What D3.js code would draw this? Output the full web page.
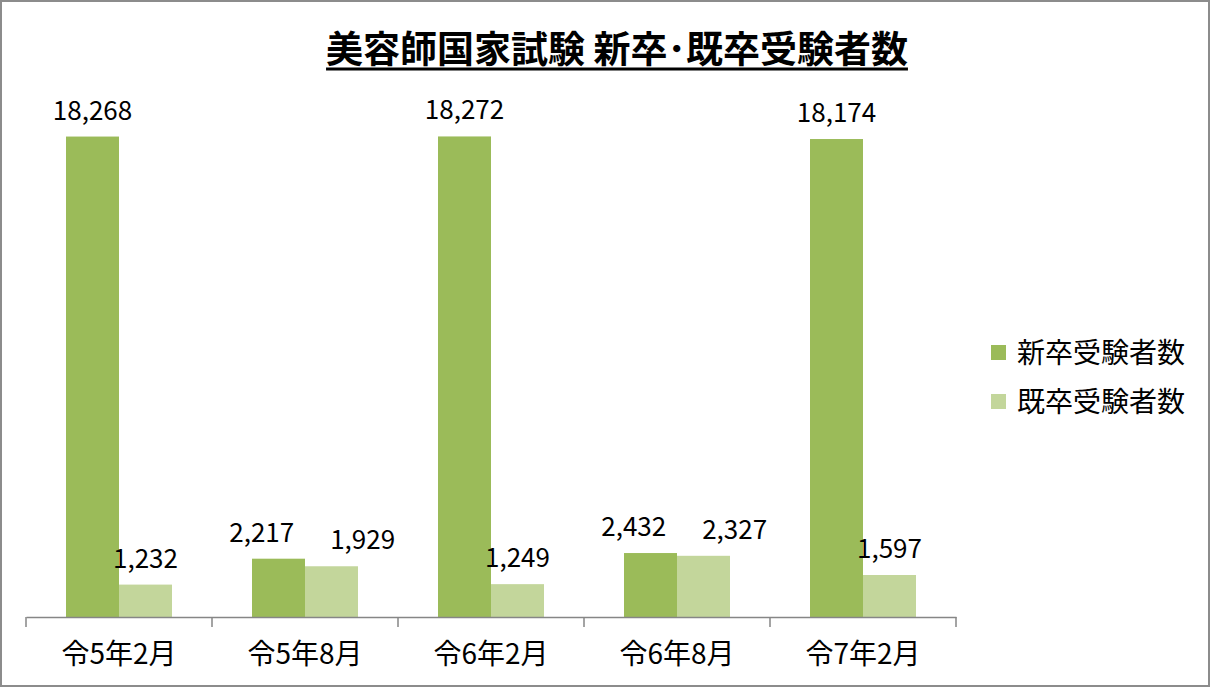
<!DOCTYPE html>
<html>
<head>
<meta charset="utf-8">
<script src="https://cdn.jsdelivr.net/npm/d3@7"></script>
<style>
  html, body { margin: 0; padding: 0; background: #fff; }
  svg { display: block; }
</style>
</head>
<body>
<div id="chart"></div>
<script>
// データ
const categories = ['令5年2月', '令5年8月', '令6年2月', '令6年8月', '令7年2月'];
const seriesNames = ['新卒受験者数', '既卒受験者数'];
const shinsotsu = [18268, 2217, 18272, 2432, 18174];
const kisotsu = [1232, 1929, 1249, 2327, 1597];
const seriesColors = ['#9BBB59', '#C3D69B'];
const titleText = '美容師国家試験 新卒･既卒受験者数';

(function () {
  'use strict';
  const W = 1212, H = 689;
  const plot = { left: 26, right: 956, top: 91, bottom: 617 };
  const font = '"Noto Sans CJK JP", "Noto Sans", sans-serif';

  const svg = d3.select('#chart').append('svg')
    .attr('width', W).attr('height', H);

  // 外枠
  svg.append('rect')
    .attr('x', 1).attr('y', 1).attr('width', W - 4).attr('height', H - 4)
    .attr('fill', '#fff').attr('stroke', '#8c8c8c').attr('stroke-width', 2);

  // タイトル
  const title = svg.append('text')
    .attr('x', 617).attr('y', 63)
    .attr('text-anchor', 'middle')
    .attr('font-family', font).attr('font-weight', 700)
    .attr('font-size', 37)
    .attr('fill', '#000')
    .text(titleText);
  const tb = title.node().getBBox();
  svg.append('line')
    .attr('x1', tb.x).attr('x2', tb.x + tb.width)
    .attr('y1', 69).attr('y2', 69)
    .attr('stroke', '#000').attr('stroke-width', 3);

  const x0 = d3.scaleBand().domain(categories).range([plot.left, plot.right]).padding(0);
  const x1 = d3.scaleBand().domain(seriesNames)
    .range([0, x0.bandwidth()]).paddingInner(0).paddingOuter(0.755);
  const y = d3.scaleLinear().domain([0, 20000]).range([plot.bottom, plot.top]);

  const rows = categories.map((c, i) => ({ cat: c, vals: [shinsotsu[i], kisotsu[i]] }));

  const g = svg.append('g');
  const groups = g.selectAll('g.grp').data(rows).join('g')
    .attr('transform', d => `translate(${x0(d.cat)},0)`);

  groups.selectAll('rect').data(d => d.vals.map((v, j) => ({ v, s: seriesNames[j], j })))
    .join('rect')
    .attr('x', d => x1(d.s))
    .attr('width', x1.bandwidth())
    .attr('y', d => y(d.v))
    .attr('height', d => y(0) - y(d.v))
    .attr('fill', d => seriesColors[d.j]);

  // データラベル(重なる場合は左右に逃がす)
  groups.each(function () {
    const labels = d3.select(this).selectAll('text.val')
      .data(d => d.vals.map((v, j) => ({ v, s: seriesNames[j] })))
      .join('text')
      .attr('class', 'val')
      .attr('x', d => x1(d.s) + x1.bandwidth() / 2)
      .attr('y', d => y(d.v) - 17)
      .attr('text-anchor', 'middle')
      .attr('font-family', font).attr('font-size', 26)
      .attr('fill', '#000')
      .text(d => d3.format(',')(d.v));
    const nodes = labels.nodes();
    const a = nodes[0].getBBox(), b = nodes[1].getBBox();
    const vOverlap = a.y < b.y + b.height && b.y < a.y + a.height;
    const need = (a.x + a.width + 36) - b.x;
    if (vOverlap && need > 0) {
      d3.select(nodes[0]).attr('x', +nodes[0].getAttribute('x') - need * 0.35);
      d3.select(nodes[1]).attr('x', +nodes[1].getAttribute('x') + need * 0.65);
    }
  });

  // X軸
  const axis = svg.append('g')
    .attr('transform', `translate(0,${plot.bottom})`)
    .call(d3.axisBottom(x0).tickSize(0).tickPadding(30));
  axis.select('.domain').attr('stroke', '#868686').attr('stroke-width', 1.5);
  axis.selectAll('text')
    .attr('font-family', font).attr('font-size', 28).attr('fill', '#000')
    .attr('dy', '0.6em');

  // 区切り目盛り
  const edges = categories.map(c => x0(c)).concat([plot.right]);
  svg.append('g').selectAll('line').data(edges).join('line')
    .attr('x1', d => d).attr('x2', d => d)
    .attr('y1', plot.bottom).attr('y2', plot.bottom + 10)
    .attr('stroke', '#868686').attr('stroke-width', 1.5);

  // 凡例
  const legend = svg.append('g').attr('transform', 'translate(991,345)');
  const li = legend.selectAll('g').data(seriesNames).join('g')
    .attr('transform', (d, i) => `translate(0,${i * 49})`);
  li.append('rect').attr('width', 15).attr('height', 15)
    .attr('fill', (d, i) => seriesColors[i]);
  li.append('text').attr('x', 26).attr('y', 18)
    .attr('font-family', font).attr('font-size', 28)
    .attr('fill', '#000')
    .text(d => d);
})();
</script>
</body>
</html>
